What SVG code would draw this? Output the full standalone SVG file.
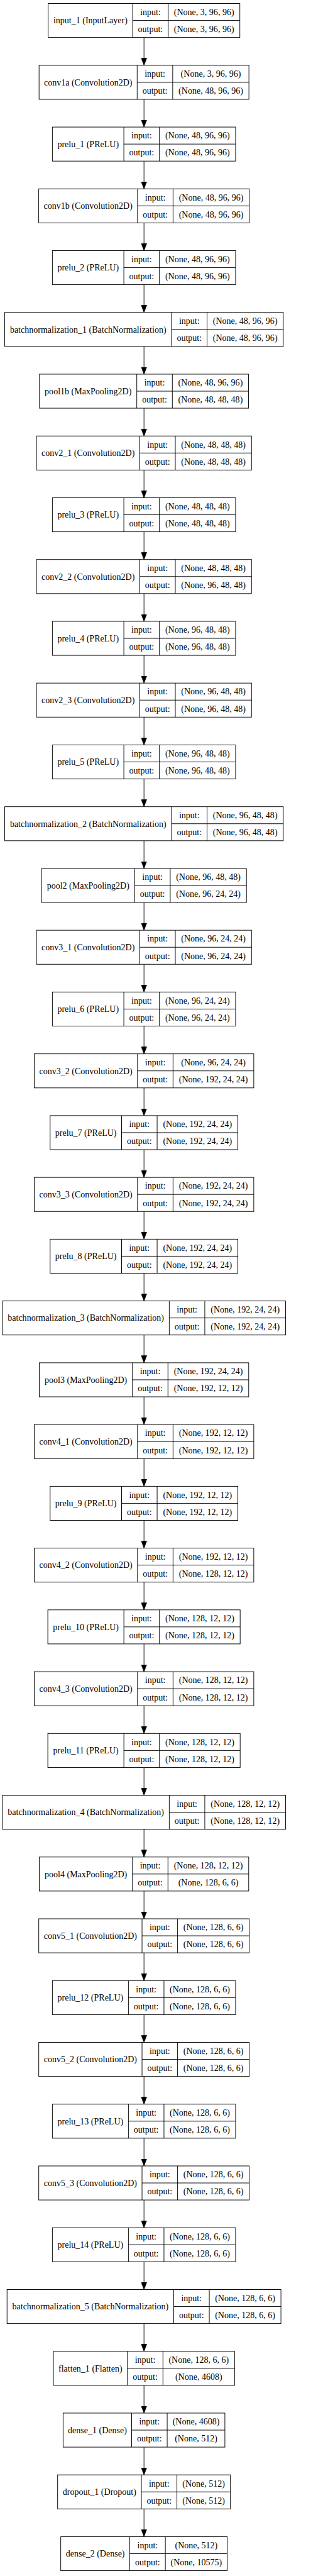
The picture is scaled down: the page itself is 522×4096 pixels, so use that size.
<svg xmlns="http://www.w3.org/2000/svg" width="522" height="4096" viewBox="0 0 522 4096">
<style>
.b{fill:#fff;stroke:#000;stroke-width:1.1}
.d{fill:none;stroke:#000;stroke-width:1.1}
text{font-family:"Liberation Serif","Times New Roman",serif;font-size:16px;text-anchor:middle;fill:#000}
#edges path{fill:none;stroke:#000;stroke-width:1.1;marker-end:url(#ah)}
</style>
<defs>
<marker id="ah" markerUnits="userSpaceOnUse" viewBox="0 0 13 10" markerWidth="13" markerHeight="10" refX="13" refY="5" orient="auto"><path d="M0,0 L13,5 L0,10 z" fill="#000" stroke="#000" stroke-width="0.8"/></marker>
</defs>
<rect width="522" height="4096" fill="#fff"/>
<g transform="scale(0.877)">
<g id="edges">
<path d="M261.3 68V118.4"/>
<path d="M261.3 180.1V230.4"/>
<path d="M261.3 292.1V342.4"/>
<path d="M261.3 404.1V454.4"/>
<path d="M261.3 516.1V566.4"/>
<path d="M261.3 628.1V678.4"/>
<path d="M261.3 740.1V790.5"/>
<path d="M261.3 852.2V902.5"/>
<path d="M261.3 964.2V1014.5"/>
<path d="M261.3 1076.2V1126.5"/>
<path d="M261.3 1188.2V1238.5"/>
<path d="M261.3 1300.2V1350.6"/>
<path d="M261.3 1412.3V1462.6"/>
<path d="M261.3 1524.3V1574.6"/>
<path d="M261.3 1636.3V1686.6"/>
<path d="M261.3 1748.3V1798.6"/>
<path d="M261.3 1860.3V1910.7"/>
<path d="M261.3 1972.4V2022.7"/>
<path d="M261.3 2084.4V2134.7"/>
<path d="M261.3 2196.4V2246.7"/>
<path d="M261.3 2308.4V2358.7"/>
<path d="M261.3 2420.4V2470.8"/>
<path d="M261.3 2532.5V2582.8"/>
<path d="M261.3 2644.5V2694.8"/>
<path d="M261.3 2756.5V2806.8"/>
<path d="M261.3 2868.5V2918.8"/>
<path d="M261.3 2980.5V3030.9"/>
<path d="M261.3 3092.6V3142.9"/>
<path d="M261.3 3204.6V3254.9"/>
<path d="M261.3 3316.6V3366.9"/>
<path d="M261.3 3428.6V3478.9"/>
<path d="M261.3 3540.6V3591"/>
<path d="M261.3 3652.7V3703"/>
<path d="M261.3 3764.7V3815"/>
<path d="M261.3 3876.7V3927"/>
<path d="M261.3 3988.7V4039"/>
<path d="M261.3 4100.7V4151.1"/>
<path d="M261.3 4212.8V4263.1"/>
<path d="M261.3 4324.8V4375.1"/>
<path d="M261.3 4436.8V4487.1"/>
<path d="M261.3 4548.8V4599.1"/>
</g>

<g id="input_1" transform="translate(0,6.3)"><rect class="b" x="87.35" y="0" width="347.9" height="61.7"/><path class="d" d="M240.75 0V61.7M305.25 0V61.7M240.75 30.85H435.25"/><text x="164.05" y="36.35">input_1 (InputLayer)</text><text x="273" y="20.9">input:</text><text x="273" y="51.8">output:</text><text x="370.25" y="20.9">(None, 3, 96, 96)</text><text x="370.25" y="51.8">(None, 3, 96, 96)</text></g>

<g id="conv1a" transform="translate(0,118.4)"><rect class="b" x="70.9" y="0" width="380.8" height="61.7"/><path class="d" d="M248.9 0V61.7M313.4 0V61.7M248.9 30.85H451.7"/><text x="159.9" y="36.35">conv1a (Convolution2D)</text><text x="281.15" y="20.9">input:</text><text x="281.15" y="51.8">output:</text><text x="382.55" y="20.9">(None, 3, 96, 96)</text><text x="382.55" y="51.8">(None, 48, 96, 96)</text></g>

<g id="prelu_1" transform="translate(0,230.4)"><rect class="b" x="95.05" y="0" width="332.5" height="61.7"/><path class="d" d="M224.75 0V61.7M289.25 0V61.7M224.75 30.85H427.55"/><text x="159.9" y="36.35">prelu_1 (PReLU)</text><text x="257" y="20.9">input:</text><text x="257" y="51.8">output:</text><text x="358.4" y="20.9">(None, 48, 96, 96)</text><text x="358.4" y="51.8">(None, 48, 96, 96)</text></g>

<g id="conv1b" transform="translate(0,342.4)"><rect class="b" x="70.25" y="0" width="382.1" height="61.7"/><path class="d" d="M249.55 0V61.7M314.05 0V61.7M249.55 30.85H452.35"/><text x="159.9" y="36.35">conv1b (Convolution2D)</text><text x="281.8" y="20.9">input:</text><text x="281.8" y="51.8">output:</text><text x="383.2" y="20.9">(None, 48, 96, 96)</text><text x="383.2" y="51.8">(None, 48, 96, 96)</text></g>

<g id="prelu_2" transform="translate(0,454.4)"><rect class="b" x="95.05" y="0" width="332.5" height="61.7"/><path class="d" d="M224.75 0V61.7M289.25 0V61.7M224.75 30.85H427.55"/><text x="159.9" y="36.35">prelu_2 (PReLU)</text><text x="257" y="20.9">input:</text><text x="257" y="51.8">output:</text><text x="358.4" y="20.9">(None, 48, 96, 96)</text><text x="358.4" y="51.8">(None, 48, 96, 96)</text></g>

<g id="batchnormalization_1" transform="translate(0,566.4)"><rect class="b" x="8.55" y="0" width="505.5" height="61.7"/><path class="d" d="M311.25 0V61.7M375.75 0V61.7M311.25 30.85H514.05"/><text x="159.9" y="36.35">batchnormalization_1 (BatchNormalization)</text><text x="343.5" y="20.9">input:</text><text x="343.5" y="51.8">output:</text><text x="444.9" y="20.9">(None, 48, 96, 96)</text><text x="444.9" y="51.8">(None, 48, 96, 96)</text></g>

<g id="pool1b" transform="translate(0,678.4)"><rect class="b" x="71.55" y="0" width="379.5" height="61.7"/><path class="d" d="M248.25 0V61.7M312.75 0V61.7M248.25 30.85H451.05"/><text x="159.9" y="36.35">pool1b (MaxPooling2D)</text><text x="280.5" y="20.9">input:</text><text x="280.5" y="51.8">output:</text><text x="381.9" y="20.9">(None, 48, 96, 96)</text><text x="381.9" y="51.8">(None, 48, 48, 48)</text></g>

<g id="conv2_1" transform="translate(0,790.5)"><rect class="b" x="66.2" y="0" width="390.2" height="61.7"/><path class="d" d="M253.6 0V61.7M318.1 0V61.7M253.6 30.85H456.4"/><text x="159.9" y="36.35">conv2_1 (Convolution2D)</text><text x="285.85" y="20.9">input:</text><text x="285.85" y="51.8">output:</text><text x="387.25" y="20.9">(None, 48, 48, 48)</text><text x="387.25" y="51.8">(None, 48, 48, 48)</text></g>

<g id="prelu_3" transform="translate(0,902.5)"><rect class="b" x="95.05" y="0" width="332.5" height="61.7"/><path class="d" d="M224.75 0V61.7M289.25 0V61.7M224.75 30.85H427.55"/><text x="159.9" y="36.35">prelu_3 (PReLU)</text><text x="257" y="20.9">input:</text><text x="257" y="51.8">output:</text><text x="358.4" y="20.9">(None, 48, 48, 48)</text><text x="358.4" y="51.8">(None, 48, 48, 48)</text></g>

<g id="conv2_2" transform="translate(0,1014.5)"><rect class="b" x="66.2" y="0" width="390.2" height="61.7"/><path class="d" d="M253.6 0V61.7M318.1 0V61.7M253.6 30.85H456.4"/><text x="159.9" y="36.35">conv2_2 (Convolution2D)</text><text x="285.85" y="20.9">input:</text><text x="285.85" y="51.8">output:</text><text x="387.25" y="20.9">(None, 48, 48, 48)</text><text x="387.25" y="51.8">(None, 96, 48, 48)</text></g>

<g id="prelu_4" transform="translate(0,1126.5)"><rect class="b" x="95.05" y="0" width="332.5" height="61.7"/><path class="d" d="M224.75 0V61.7M289.25 0V61.7M224.75 30.85H427.55"/><text x="159.9" y="36.35">prelu_4 (PReLU)</text><text x="257" y="20.9">input:</text><text x="257" y="51.8">output:</text><text x="358.4" y="20.9">(None, 96, 48, 48)</text><text x="358.4" y="51.8">(None, 96, 48, 48)</text></g>

<g id="conv2_3" transform="translate(0,1238.5)"><rect class="b" x="66.2" y="0" width="390.2" height="61.7"/><path class="d" d="M253.6 0V61.7M318.1 0V61.7M253.6 30.85H456.4"/><text x="159.9" y="36.35">conv2_3 (Convolution2D)</text><text x="285.85" y="20.9">input:</text><text x="285.85" y="51.8">output:</text><text x="387.25" y="20.9">(None, 96, 48, 48)</text><text x="387.25" y="51.8">(None, 96, 48, 48)</text></g>

<g id="prelu_5" transform="translate(0,1350.6)"><rect class="b" x="95.05" y="0" width="332.5" height="61.7"/><path class="d" d="M224.75 0V61.7M289.25 0V61.7M224.75 30.85H427.55"/><text x="159.9" y="36.35">prelu_5 (PReLU)</text><text x="257" y="20.9">input:</text><text x="257" y="51.8">output:</text><text x="358.4" y="20.9">(None, 96, 48, 48)</text><text x="358.4" y="51.8">(None, 96, 48, 48)</text></g>

<g id="batchnormalization_2" transform="translate(0,1462.6)"><rect class="b" x="8.55" y="0" width="505.5" height="61.7"/><path class="d" d="M311.25 0V61.7M375.75 0V61.7M311.25 30.85H514.05"/><text x="159.9" y="36.35">batchnormalization_2 (BatchNormalization)</text><text x="343.5" y="20.9">input:</text><text x="343.5" y="51.8">output:</text><text x="444.9" y="20.9">(None, 96, 48, 48)</text><text x="444.9" y="51.8">(None, 96, 48, 48)</text></g>

<g id="pool2" transform="translate(0,1574.6)"><rect class="b" x="75.4" y="0" width="371.8" height="61.7"/><path class="d" d="M244.4 0V61.7M308.9 0V61.7M244.4 30.85H447.2"/><text x="159.9" y="36.35">pool2 (MaxPooling2D)</text><text x="276.65" y="20.9">input:</text><text x="276.65" y="51.8">output:</text><text x="378.05" y="20.9">(None, 96, 48, 48)</text><text x="378.05" y="51.8">(None, 96, 24, 24)</text></g>

<g id="conv3_1" transform="translate(0,1686.6)"><rect class="b" x="66.2" y="0" width="390.2" height="61.7"/><path class="d" d="M253.6 0V61.7M318.1 0V61.7M253.6 30.85H456.4"/><text x="159.9" y="36.35">conv3_1 (Convolution2D)</text><text x="285.85" y="20.9">input:</text><text x="285.85" y="51.8">output:</text><text x="387.25" y="20.9">(None, 96, 24, 24)</text><text x="387.25" y="51.8">(None, 96, 24, 24)</text></g>

<g id="prelu_6" transform="translate(0,1798.6)"><rect class="b" x="95.05" y="0" width="332.5" height="61.7"/><path class="d" d="M224.75 0V61.7M289.25 0V61.7M224.75 30.85H427.55"/><text x="159.9" y="36.35">prelu_6 (PReLU)</text><text x="257" y="20.9">input:</text><text x="257" y="51.8">output:</text><text x="358.4" y="20.9">(None, 96, 24, 24)</text><text x="358.4" y="51.8">(None, 96, 24, 24)</text></g>

<g id="conv3_2" transform="translate(0,1910.7)"><rect class="b" x="62.1" y="0" width="398.4" height="61.7"/><path class="d" d="M249.5 0V61.7M314 0V61.7M249.5 30.85H460.5"/><text x="155.8" y="36.35">conv3_2 (Convolution2D)</text><text x="281.75" y="20.9">input:</text><text x="281.75" y="51.8">output:</text><text x="387.25" y="20.9">(None, 96, 24, 24)</text><text x="387.25" y="51.8">(None, 192, 24, 24)</text></g>

<g id="prelu_7" transform="translate(0,2022.7)"><rect class="b" x="90.95" y="0" width="340.7" height="61.7"/><path class="d" d="M220.65 0V61.7M285.15 0V61.7M220.65 30.85H431.65"/><text x="155.8" y="36.35">prelu_7 (PReLU)</text><text x="252.9" y="20.9">input:</text><text x="252.9" y="51.8">output:</text><text x="358.4" y="20.9">(None, 192, 24, 24)</text><text x="358.4" y="51.8">(None, 192, 24, 24)</text></g>

<g id="conv3_3" transform="translate(0,2134.7)"><rect class="b" x="62.1" y="0" width="398.4" height="61.7"/><path class="d" d="M249.5 0V61.7M314 0V61.7M249.5 30.85H460.5"/><text x="155.8" y="36.35">conv3_3 (Convolution2D)</text><text x="281.75" y="20.9">input:</text><text x="281.75" y="51.8">output:</text><text x="387.25" y="20.9">(None, 192, 24, 24)</text><text x="387.25" y="51.8">(None, 192, 24, 24)</text></g>

<g id="prelu_8" transform="translate(0,2246.7)"><rect class="b" x="90.95" y="0" width="340.7" height="61.7"/><path class="d" d="M220.65 0V61.7M285.15 0V61.7M220.65 30.85H431.65"/><text x="155.8" y="36.35">prelu_8 (PReLU)</text><text x="252.9" y="20.9">input:</text><text x="252.9" y="51.8">output:</text><text x="358.4" y="20.9">(None, 192, 24, 24)</text><text x="358.4" y="51.8">(None, 192, 24, 24)</text></g>

<g id="batchnormalization_3" transform="translate(0,2358.7)"><rect class="b" x="4.45" y="0" width="513.7" height="61.7"/><path class="d" d="M307.15 0V61.7M371.65 0V61.7M307.15 30.85H518.15"/><text x="155.8" y="36.35">batchnormalization_3 (BatchNormalization)</text><text x="339.4" y="20.9">input:</text><text x="339.4" y="51.8">output:</text><text x="444.9" y="20.9">(None, 192, 24, 24)</text><text x="444.9" y="51.8">(None, 192, 24, 24)</text></g>

<g id="pool3" transform="translate(0,2470.8)"><rect class="b" x="71.3" y="0" width="380" height="61.7"/><path class="d" d="M240.3 0V61.7M304.8 0V61.7M240.3 30.85H451.3"/><text x="155.8" y="36.35">pool3 (MaxPooling2D)</text><text x="272.55" y="20.9">input:</text><text x="272.55" y="51.8">output:</text><text x="378.05" y="20.9">(None, 192, 24, 24)</text><text x="378.05" y="51.8">(None, 192, 12, 12)</text></g>

<g id="conv4_1" transform="translate(0,2582.8)"><rect class="b" x="62.1" y="0" width="398.4" height="61.7"/><path class="d" d="M249.5 0V61.7M314 0V61.7M249.5 30.85H460.5"/><text x="155.8" y="36.35">conv4_1 (Convolution2D)</text><text x="281.75" y="20.9">input:</text><text x="281.75" y="51.8">output:</text><text x="387.25" y="20.9">(None, 192, 12, 12)</text><text x="387.25" y="51.8">(None, 192, 12, 12)</text></g>

<g id="prelu_9" transform="translate(0,2694.8)"><rect class="b" x="90.95" y="0" width="340.7" height="61.7"/><path class="d" d="M220.65 0V61.7M285.15 0V61.7M220.65 30.85H431.65"/><text x="155.8" y="36.35">prelu_9 (PReLU)</text><text x="252.9" y="20.9">input:</text><text x="252.9" y="51.8">output:</text><text x="358.4" y="20.9">(None, 192, 12, 12)</text><text x="358.4" y="51.8">(None, 192, 12, 12)</text></g>

<g id="conv4_2" transform="translate(0,2806.8)"><rect class="b" x="62.1" y="0" width="398.4" height="61.7"/><path class="d" d="M249.5 0V61.7M314 0V61.7M249.5 30.85H460.5"/><text x="155.8" y="36.35">conv4_2 (Convolution2D)</text><text x="281.75" y="20.9">input:</text><text x="281.75" y="51.8">output:</text><text x="387.25" y="20.9">(None, 192, 12, 12)</text><text x="387.25" y="51.8">(None, 128, 12, 12)</text></g>

<g id="prelu_10" transform="translate(0,2918.8)"><rect class="b" x="86.8" y="0" width="349" height="61.7"/><path class="d" d="M224.8 0V61.7M289.3 0V61.7M224.8 30.85H435.8"/><text x="155.8" y="36.35">prelu_10 (PReLU)</text><text x="257.05" y="20.9">input:</text><text x="257.05" y="51.8">output:</text><text x="362.55" y="20.9">(None, 128, 12, 12)</text><text x="362.55" y="51.8">(None, 128, 12, 12)</text></g>

<g id="conv4_3" transform="translate(0,3030.9)"><rect class="b" x="62.1" y="0" width="398.4" height="61.7"/><path class="d" d="M249.5 0V61.7M314 0V61.7M249.5 30.85H460.5"/><text x="155.8" y="36.35">conv4_3 (Convolution2D)</text><text x="281.75" y="20.9">input:</text><text x="281.75" y="51.8">output:</text><text x="387.25" y="20.9">(None, 128, 12, 12)</text><text x="387.25" y="51.8">(None, 128, 12, 12)</text></g>

<g id="prelu_11" transform="translate(0,3142.9)"><rect class="b" x="86.8" y="0" width="349" height="61.7"/><path class="d" d="M224.8 0V61.7M289.3 0V61.7M224.8 30.85H435.8"/><text x="155.8" y="36.35">prelu_11 (PReLU)</text><text x="257.05" y="20.9">input:</text><text x="257.05" y="51.8">output:</text><text x="362.55" y="20.9">(None, 128, 12, 12)</text><text x="362.55" y="51.8">(None, 128, 12, 12)</text></g>

<g id="batchnormalization_4" transform="translate(0,3254.9)"><rect class="b" x="4.45" y="0" width="513.7" height="61.7"/><path class="d" d="M307.15 0V61.7M371.65 0V61.7M307.15 30.85H518.15"/><text x="155.8" y="36.35">batchnormalization_4 (BatchNormalization)</text><text x="339.4" y="20.9">input:</text><text x="339.4" y="51.8">output:</text><text x="444.9" y="20.9">(None, 128, 12, 12)</text><text x="444.9" y="51.8">(None, 128, 12, 12)</text></g>

<g id="pool4" transform="translate(0,3366.9)"><rect class="b" x="71.3" y="0" width="380" height="61.7"/><path class="d" d="M240.3 0V61.7M304.8 0V61.7M240.3 30.85H451.3"/><text x="155.8" y="36.35">pool4 (MaxPooling2D)</text><text x="272.55" y="20.9">input:</text><text x="272.55" y="51.8">output:</text><text x="378.05" y="20.9">(None, 128, 12, 12)</text><text x="378.05" y="51.8">(None, 128, 6, 6)</text></g>

<g id="conv5_1" transform="translate(0,3478.9)"><rect class="b" x="70.35" y="0" width="381.9" height="61.7"/><path class="d" d="M257.75 0V61.7M322.25 0V61.7M257.75 30.85H452.25"/><text x="164.05" y="36.35">conv5_1 (Convolution2D)</text><text x="290" y="20.9">input:</text><text x="290" y="51.8">output:</text><text x="387.25" y="20.9">(None, 128, 6, 6)</text><text x="387.25" y="51.8">(None, 128, 6, 6)</text></g>

<g id="prelu_12" transform="translate(0,3591)"><rect class="b" x="95.05" y="0" width="332.5" height="61.7"/><path class="d" d="M233.05 0V61.7M297.55 0V61.7M233.05 30.85H427.55"/><text x="164.05" y="36.35">prelu_12 (PReLU)</text><text x="265.3" y="20.9">input:</text><text x="265.3" y="51.8">output:</text><text x="362.55" y="20.9">(None, 128, 6, 6)</text><text x="362.55" y="51.8">(None, 128, 6, 6)</text></g>

<g id="conv5_2" transform="translate(0,3703)"><rect class="b" x="70.35" y="0" width="381.9" height="61.7"/><path class="d" d="M257.75 0V61.7M322.25 0V61.7M257.75 30.85H452.25"/><text x="164.05" y="36.35">conv5_2 (Convolution2D)</text><text x="290" y="20.9">input:</text><text x="290" y="51.8">output:</text><text x="387.25" y="20.9">(None, 128, 6, 6)</text><text x="387.25" y="51.8">(None, 128, 6, 6)</text></g>

<g id="prelu_13" transform="translate(0,3815)"><rect class="b" x="95.05" y="0" width="332.5" height="61.7"/><path class="d" d="M233.05 0V61.7M297.55 0V61.7M233.05 30.85H427.55"/><text x="164.05" y="36.35">prelu_13 (PReLU)</text><text x="265.3" y="20.9">input:</text><text x="265.3" y="51.8">output:</text><text x="362.55" y="20.9">(None, 128, 6, 6)</text><text x="362.55" y="51.8">(None, 128, 6, 6)</text></g>

<g id="conv5_3" transform="translate(0,3927)"><rect class="b" x="70.35" y="0" width="381.9" height="61.7"/><path class="d" d="M257.75 0V61.7M322.25 0V61.7M257.75 30.85H452.25"/><text x="164.05" y="36.35">conv5_3 (Convolution2D)</text><text x="290" y="20.9">input:</text><text x="290" y="51.8">output:</text><text x="387.25" y="20.9">(None, 128, 6, 6)</text><text x="387.25" y="51.8">(None, 128, 6, 6)</text></g>

<g id="prelu_14" transform="translate(0,4039)"><rect class="b" x="95.05" y="0" width="332.5" height="61.7"/><path class="d" d="M233.05 0V61.7M297.55 0V61.7M233.05 30.85H427.55"/><text x="164.05" y="36.35">prelu_14 (PReLU)</text><text x="265.3" y="20.9">input:</text><text x="265.3" y="51.8">output:</text><text x="362.55" y="20.9">(None, 128, 6, 6)</text><text x="362.55" y="51.8">(None, 128, 6, 6)</text></g>

<g id="batchnormalization_5" transform="translate(0,4151.1)"><rect class="b" x="12.8" y="0" width="497" height="61.7"/><path class="d" d="M315.3 0V61.7M379.8 0V61.7M315.3 30.85H509.8"/><text x="164.05" y="36.35">batchnormalization_5 (BatchNormalization)</text><text x="347.55" y="20.9">input:</text><text x="347.55" y="51.8">output:</text><text x="444.8" y="20.9">(None, 128, 6, 6)</text><text x="444.8" y="51.8">(None, 128, 6, 6)</text></g>

<g id="flatten_1" transform="translate(0,4263.1)"><rect class="b" x="96.9" y="0" width="328.8" height="61.7"/><path class="d" d="M231.2 0V61.7M295.7 0V61.7M231.2 30.85H425.7"/><text x="164.05" y="36.35">flatten_1 (Flatten)</text><text x="263.45" y="20.9">input:</text><text x="263.45" y="51.8">output:</text><text x="360.7" y="20.9">(None, 128, 6, 6)</text><text x="360.7" y="51.8">(None, 4608)</text></g>

<g id="dense_1" transform="translate(0,4375.1)"><rect class="b" x="114.5" y="0" width="293.6" height="61.7"/><path class="d" d="M238.9 0V61.7M303.4 0V61.7M238.9 30.85H408.1"/><text x="176.7" y="36.35">dense_1 (Dense)</text><text x="271.15" y="20.9">input:</text><text x="271.15" y="51.8">output:</text><text x="355.75" y="20.9">(None, 4608)</text><text x="355.75" y="51.8">(None, 512)</text></g>

<g id="dropout_1" transform="translate(0,4487.1)"><rect class="b" x="104.55" y="0" width="313.5" height="61.7"/><path class="d" d="M256.55 0V61.7M321.05 0V61.7M256.55 30.85H418.05"/><text x="180.55" y="36.35">dropout_1 (Dropout)</text><text x="288.8" y="20.9">input:</text><text x="288.8" y="51.8">output:</text><text x="369.55" y="20.9">(None, 512)</text><text x="369.55" y="51.8">(None, 512)</text></g>

<g id="dense_2" transform="translate(0,4599.1)"><rect class="b" x="110.25" y="0" width="302.1" height="61.7"/><path class="d" d="M235.55 0V61.7M300.05 0V61.7M235.55 30.85H412.35"/><text x="172.9" y="36.35">dense_2 (Dense)</text><text x="267.8" y="20.9">input:</text><text x="267.8" y="51.8">output:</text><text x="356.2" y="20.9">(None, 512)</text><text x="356.2" y="51.8">(None, 10575)</text></g>
</g>
</svg>
